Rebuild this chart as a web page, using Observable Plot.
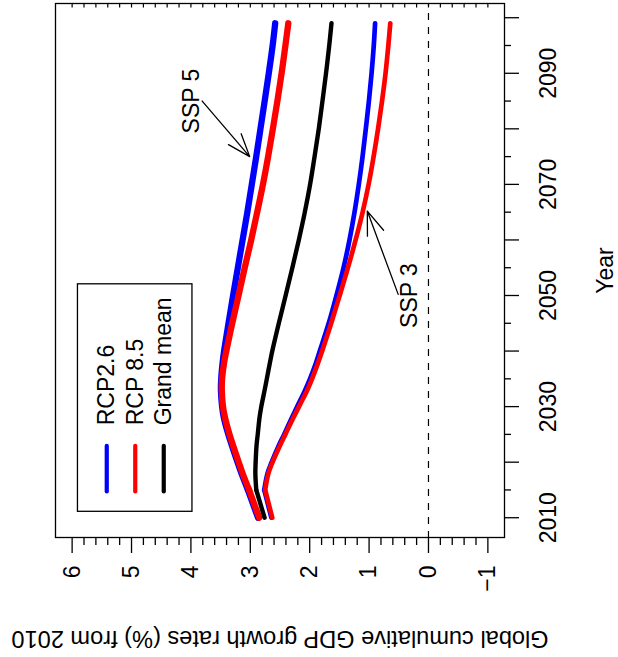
<!DOCTYPE html>
<html><head><meta charset="utf-8">
<script src="https://cdn.jsdelivr.net/npm/d3@7"></script>
<script src="https://cdn.jsdelivr.net/npm/@observablehq/plot@0.6"></script>
<style>
html,body{margin:0;padding:0;background:#fff;}
#wrap{position:relative;width:618px;height:657px;overflow:hidden;background:#fff;}
#wrap svg{position:absolute;left:0;top:0;max-width:none;width:657px;height:618px;transform-origin:0 0;transform:translate(0px,657px) rotate(-90deg);}
</style></head><body><div id="wrap"></div>
<script>
// ---- data ----
const years      = [2010,2015,2018,2020,2023,2025,2028,2030,2033,2035,2038,2040,2045,2050,2055,2060,2065,2070,2075,2080,2085,2090,2095,2099];
const ssp5_rcp26 = [2.87,3.04,3.15,3.215,3.31,3.37,3.445,3.475,3.495,3.49,3.465,3.441,3.367,3.29,3.21,3.13,3.05,2.975,2.90,2.829,2.758,2.689,2.624,2.581];
const ssp5_rcp85 = [2.85,3.02,3.13,3.195,3.29,3.35,3.425,3.46,3.48,3.475,3.44,3.404,3.304,3.198,3.094,2.985,2.884,2.787,2.70,2.62,2.544,2.473,2.409,2.36];
const ssp3_rcp26 = [2.645,2.765,2.71,2.64,2.52,2.43,2.30,2.21,2.075,1.995,1.89,1.83,1.68,1.55,1.43,1.33,1.245,1.173,1.11,1.055,1.003,0.958,0.921,0.899];
const ssp3_rcp85 = [2.63,2.75,2.695,2.625,2.50,2.41,2.275,2.18,2.04,1.96,1.855,1.79,1.638,1.495,1.356,1.227,1.109,1.008,0.924,0.849,0.782,0.723,0.676,0.643];
const grand_mean = [2.76,2.90,2.915,2.91,2.895,2.875,2.845,2.815,2.758,2.722,2.668,2.63,2.52,2.405,2.292,2.183,2.082,1.993,1.918,1.847,1.785,1.725,1.671,1.633];

const xLimits = [2006.44, 2102.56];
const yLimits = [-1.28, 6.28];
const yearMajorTicks = [2010,2020,2030,2040,2050,2060,2070,2080,2090,2100];
const yearMinorTicks = [2015,2025,2035,2045,2055,2065,2075,2085,2095];
const yearLabelTicks = [2010,2030,2050,2070,2090];
const yearLabels     = ["2010","2030","2050","2070","2090"];
const valueMajorTicks = [-1,0,1,2,3,4,5,6];
const valueLabels     = ["\u22121","0","1","2","3","4","5","6"];
const valueMinorTicks = d3.range(-5, 31).map(k => k / 5).filter(v => Math.abs(v - Math.round(v)) > 1e-6);
const valueFineTicks  = d3.range(-5, 31).map(k => k / 5);

const legendLabels = ["RCP2.6", "RCP 8.5", "Grand mean"];
const legendColors = ["#0000ff", "#ff0000", "#000000"];

const annotations = [
  {label: "SSP 5", x: 2085, y: 3.98, ax1: 2085, ay1: 3.81, ax2: 2075, ay2: 3.01},
  {label: "SSP 3", x: 2050, y: 0.31, ax1: 2050.2, ay1: 0.51, ax2: 2065.2, ay2: 1.03}
];

const xLabel = "Year";
const yLabel = "Global cumulative GDP growth rates (%) from 2010";

// ---- build table ----
const seriesDefs = [
  {key: "SSP5 RCP2.6", values: ssp5_rcp26, color: "#0000ff", w: 6.3},
  {key: "SSP3 RCP2.6", values: ssp3_rcp26, color: "#0000ff", w: 4.7},
  {key: "SSP5 RCP8.5", values: ssp5_rcp85, color: "#ff0000", w: 6.3},
  {key: "SSP3 RCP8.5", values: ssp3_rcp85, color: "#ff0000", w: 4.7},
  {key: "Grand mean",  values: grand_mean, color: "#000000", w: 4.4}
];

const FONT = "'Liberation Sans', Arial, Helvetica, sans-serif";
const FS = 23;
const none = () => null;

const lineMarks = seriesDefs.flatMap(s => {
  const rows = years.map((yr, i) => ({year: yr, value: s.values[i]}));
  const head = rows.filter(r => r.year <= 2015);
  const tail = rows.filter(r => r.year >= 2015);
  const opts = {x: "year", y: "value", stroke: s.color, strokeWidth: s.w, strokeLinecap: "round", strokeLinejoin: "round"};
  return [
    Plot.line(head, {...opts, curve: "linear"}),
    Plot.line(tail, {...opts, curve: "catmull-rom"})
  ];
});

const chart = Plot.plot({
  width: 657, height: 618,
  marginLeft: 119, marginRight: 4, marginTop: 55, marginBottom: 114,
  x: {domain: xLimits},
  y: {domain: yLimits},
  style: {fontFamily: FONT, fontSize: FS + "px", background: "white", color: "black", overflow: "visible"},
  marks: [
    Plot.ruleY([0], {stroke: "black", strokeWidth: 1.2, strokeDasharray: "7,7"}),
    ...lineMarks,
    Plot.arrow(annotations, {x1: "ax1", y1: "ay1", x2: "ax2", y2: "ay2", stroke: "black", strokeWidth: 1.3, headLength: 29, headAngle: 40}),
    Plot.text(annotations, {x: "x", y: "y", text: "label", fontSize: FS, fill: "black"}),
    Plot.frame({stroke: "black", strokeWidth: 1.3}),
    // bottom (year) axis
    Plot.axisX(yearMajorTicks, {tickSize: 15, tickFormat: none, label: null, strokeWidth: 1.3}),
    Plot.axisX(yearMinorTicks, {tickSize: 7, tickFormat: none, label: null, strokeWidth: 1.3}),
    Plot.axisX(yearLabelTicks, {tickSize: 0, tickPadding: 35, tickFormat: (d, i) => yearLabels[i], label: null, fontSize: FS, fill: "black"}),
    // left (value) axis
    Plot.axisY(valueMajorTicks, {tickSize: 15, tickFormat: none, label: null, strokeWidth: 1.3}),
    Plot.axisY(valueMinorTicks, {tickSize: 7, tickFormat: none, label: null, strokeWidth: 1.3}),
    Plot.axisY(valueMajorTicks, {tickSize: 0, tickPadding: 28, tickFormat: (d, i) => valueLabels[i], label: null, fontSize: FS, fill: "black"}),
    // right inner ticks
    Plot.axisY(valueFineTicks, {anchor: "right", tickSize: 4.5, dx: -4.5, tickFormat: none, label: null, strokeWidth: 1.2}),
    // axis titles
    Plot.text([xLabel], {text: d => d, frameAnchor: "bottom", dy: 108, lineAnchor: "bottom", textAnchor: "middle", fontSize: FS, fill: "black"}),
    Plot.text([yLabel], {text: d => d, frameAnchor: "left", rotate: -90, dx: -93.5, lineAnchor: "bottom", textAnchor: "middle", fontSize: 23.6, fill: "black"})
  ]
});

// ---- legend (R style: topleft, inset 5%) ----
const xs = chart.scale("x"), ys = chart.scale("y");
const [px0, px1] = xs.range;
const [pyB, pyT] = ys.range;
const lx = px0 + 0.05 * (px1 - px0);
const ly = pyT + 0.05 * (pyB - pyT);
const svg = d3.select(chart);
const lg = svg.append("g").attr("class", "legend");
lg.append("rect").attr("x", lx).attr("y", ly).attr("width", 227.5).attr("height", 114.5)
  .attr("fill", "white").attr("stroke", "black").attr("stroke-width", 1.3);
legendLabels.forEach((lab, i) => {
  const ry = ly + 29.3 + i * 28.5;
  lg.append("line").attr("x1", lx + 19.8).attr("x2", lx + 65.5).attr("y1", ry).attr("y2", ry)
    .attr("stroke", legendColors[i]).attr("stroke-width", 4.2).attr("stroke-linecap", "round");
  lg.append("text").attr("x", lx + 86).attr("y", ry).attr("dy", "0.32em")
    .attr("font-family", FONT).attr("font-size", FS).attr("fill", "black").attr("text-anchor", "start")
    .text(lab);
});

document.getElementById("wrap").appendChild(chart);
</script>
</body></html>
